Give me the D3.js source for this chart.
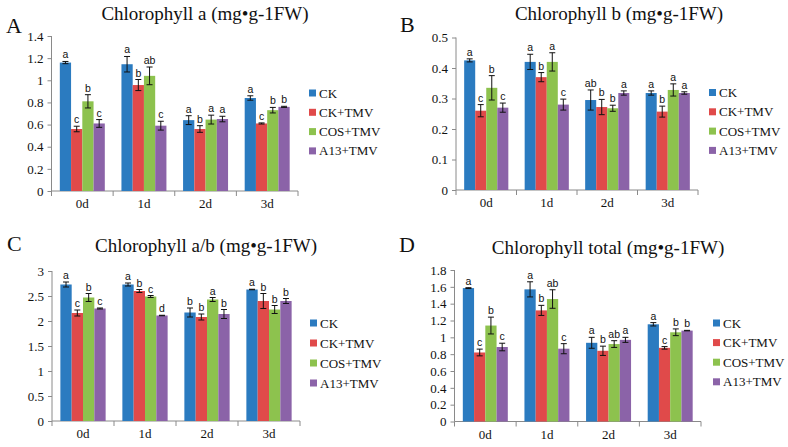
<!DOCTYPE html>
<html>
<head>
<meta charset="utf-8">
<script src="https://cdn.jsdelivr.net/npm/d3@7"></script>
<style>
  body { margin: 0; background: #fff; }
  svg { display: block; }
</style>
</head>
<body>
<svg id="chart" width="788" height="447"></svg>
<script>
const days = ["0d", "1d", "2d", "3d"];
const treatments = ["CK", "CK+TMV", "COS+TMV", "A13+TMV"];
const colors = ["#2b7bc0", "#e04a4a", "#8dc24e", "#8b63a8"];

// values per day, in treatment order
const chlA = [[1.16, 0.56, 0.81, 0.61], [1.145, 0.957, 1.04, 0.59], [0.64, 0.56, 0.645, 0.65], [0.84, 0.61, 0.73, 0.76]];
const chlAErr = [[0.01, 0.025, 0.06, 0.035], [0.07, 0.05, 0.08, 0.04], [0.04, 0.03, 0.04, 0.025], [0.02, 0.005, 0.025, 0.005]];
const chlALetters = [["a", "c", "b", "c"], ["a", "b", "ab", "c"], ["a", "b", "a", "a"], ["a", "c", "b", "b"]];

const chlB = [[0.425, 0.26, 0.335, 0.27], [0.42, 0.37, 0.42, 0.28], [0.295, 0.272, 0.268, 0.318], [0.318, 0.257, 0.328, 0.318]];
const chlBErr = [[0.005, 0.02, 0.04, 0.015], [0.025, 0.015, 0.03, 0.018], [0.033, 0.025, 0.01, 0.007], [0.007, 0.018, 0.02, 0.004]];
const chlBLetters = [["a", "c", "b", "c"], ["a", "b", "a", "c"], ["ab", "b", "b", "a"], ["a", "b", "a", "a"]];

const chlAB = [[2.73, 2.16, 2.47, 2.25], [2.73, 2.6, 2.49, 2.11], [2.17, 2.08, 2.43, 2.14], [2.63, 2.4, 2.23, 2.4]];
const chlABErr = [[0.05, 0.06, 0.08, 0.01], [0.03, 0.03, 0.02, 0.005], [0.09, 0.06, 0.04, 0.09], [0.005, 0.15, 0.08, 0.05]];
const chlABLetters = [["a", "c", "b", "c"], ["a", "b", "c", "d"], ["b", "b", "a", "b"], ["a", "b", "b", "b"]];

const chlT = [[1.585, 0.82, 1.14, 0.885], [1.57, 1.32, 1.455, 0.865], [0.935, 0.84, 0.92, 0.97], [1.155, 0.875, 1.06, 1.08]];
const chlTErr = [[0.005, 0.04, 0.1, 0.045], [0.09, 0.06, 0.11, 0.06], [0.065, 0.055, 0.04, 0.03], [0.02, 0.015, 0.04, 0.003]];
const chlTLetters = [["a", "c", "b", "c"], ["a", "b", "ab", "c"], ["a", "b", "ab", "a"], ["a", "c", "b", "b"]];

const panels = [
  { tag: "A", title: "Chlorophyll a (mg•g-1FW)", values: chlA, errs: chlAErr, letters: chlALetters,
    max: 1.4, step: 0.2, x0: 51.5, x1: 298, yTop: 36, yBot: 191,
    titleX: 205, titleY: 20, tagX: 6, tagY: 33, legX: 309, legY: 93, legGap: 19.3 },
  { tag: "B", title: "Chlorophyll b (mg•g-1FW)", values: chlB, errs: chlBErr, letters: chlBLetters,
    max: 0.5, step: 0.1, x0: 456, x1: 698, yTop: 37.5, yBot: 190,
    titleX: 619, titleY: 20, tagX: 400, tagY: 32, legX: 709, legY: 92.5, legGap: 19.3 },
  { tag: "C", title: "Chlorophyll a/b (mg•g-1FW)", values: chlAB, errs: chlABErr, letters: chlABLetters,
    max: 3, step: 0.5, x0: 52, x1: 300, yTop: 271, yBot: 421,
    titleX: 206, titleY: 252, tagX: 7, tagY: 251, legX: 310, legY: 323, legGap: 20 },
  { tag: "D", title: "Chlorophyll total (mg•g-1FW)", values: chlT, errs: chlTErr, letters: chlTLetters,
    max: 1.8, step: 0.2, x0: 454.5, x1: 701, yTop: 270, yBot: 421.5,
    titleX: 608, titleY: 254, tagX: 399, tagY: 252, legX: 713, legY: 323, legGap: 19.6 }
];

const svg = d3.select("#chart");
svg.append("rect").attr("width", 788).attr("height", 447).attr("fill", "#fff");

const serif = '"Liberation Serif", "Times New Roman", serif';
const axisColor = "#8a8a8a";

function drawPanel(p) {
  const g = svg.append("g");

  const x = d3.scaleBand().domain(days).range([p.x0, p.x1]).paddingInner(0.27).paddingOuter(0.135);
  const xs = d3.scaleBand().domain(treatments).range([0, x.bandwidth()]);
  const y = d3.scaleLinear().domain([0, p.max]).range([p.yBot, p.yTop]);

  const ticks = d3.range(0, p.max + p.step / 2, p.step).map(v => +v.toFixed(2));

  // y axis
  const yAxis = g.append("g")
    .attr("transform", `translate(${p.x0},0)`)
    .call(d3.axisLeft(y).tickValues(ticks).tickSize(4).tickPadding(4).tickFormat(d => String(+d.toFixed(2))));
  yAxis.attr("font-family", serif);
  yAxis.select(".domain").attr("stroke", axisColor).attr("d", `M0,${p.yBot}V${p.yTop}`);
  yAxis.selectAll(".tick line").attr("stroke", axisColor);
  yAxis.selectAll(".tick text").attr("font-family", serif).attr("font-size", 13).attr("fill", "#111");

  // x axis: line + tick marks between categories
  const edges = d3.range(0, days.length + 1).map(i => p.x0 + i * (p.x1 - p.x0) / days.length);
  g.append("line").attr("x1", p.x0).attr("x2", p.x1).attr("y1", p.yBot).attr("y2", p.yBot)
    .attr("stroke", axisColor);
  g.selectAll(".xt").data(edges).join("line")
    .attr("x1", d => d).attr("x2", d => d).attr("y1", p.yBot).attr("y2", p.yBot + 5)
    .attr("stroke", axisColor);
  g.selectAll(".xl").data(days).join("text")
    .attr("x", d => x(d) + x.bandwidth() / 2).attr("y", p.yBot + 17)
    .attr("text-anchor", "middle").attr("font-family", serif).attr("font-size", 13).attr("fill", "#111")
    .text(d => d);

  // bars
  days.forEach((day, di) => {
    const grp = g.append("g").attr("transform", `translate(${x(day)},0)`);
    treatments.forEach((t, ti) => {
      const v = p.values[di][ti];
      const e = p.errs[di][ti];
      const bx = xs(t);
      const bw = xs.bandwidth();
      grp.append("rect")
        .attr("x", bx).attr("width", bw)
        .attr("y", y(v)).attr("height", y(0) - y(v))
        .attr("fill", colors[ti]);
      const cx = bx + bw / 2;
      grp.append("line").attr("x1", cx).attr("x2", cx).attr("y1", y(v - e)).attr("y2", y(v + e))
        .attr("stroke", "#111").attr("stroke-width", 1);
      [v - e, v + e].forEach(ev => {
        grp.append("line").attr("x1", cx - 3).attr("x2", cx + 3).attr("y1", y(ev)).attr("y2", y(ev))
          .attr("stroke", "#111").attr("stroke-width", 1);
      });
      grp.append("text")
        .attr("x", cx).attr("y", y(v + e) - 3)
        .attr("text-anchor", "middle")
        .attr("font-family", '"Liberation Sans", Arial, sans-serif').attr("font-size", 10.5).attr("fill", "#111")
        .text(p.letters[di][ti]);
    });
  });

  // title and panel tag
  g.append("text").attr("x", p.titleX).attr("y", p.titleY).attr("text-anchor", "middle")
    .attr("font-family", serif).attr("font-size", 19).attr("fill", "#111").text(p.title);
  g.append("text").attr("x", p.tagX).attr("y", p.tagY)
    .attr("font-family", serif).attr("font-size", 22).attr("fill", "#111").text(p.tag);

  // legend
  const leg = g.append("g").attr("transform", `translate(${p.legX},${p.legY})`);
  treatments.forEach((t, i) => {
    const row = leg.append("g").attr("transform", `translate(0,${i * p.legGap})`);
    row.append("rect").attr("x", 0).attr("y", -3.5).attr("width", 7).attr("height", 7).attr("fill", colors[i]);
    row.append("text").attr("x", 10).attr("y", 4.5)
      .attr("font-family", serif).attr("font-size", 13).attr("fill", "#111").text(t);
  });
}

panels.forEach(drawPanel);
</script>
</body>
</html>
